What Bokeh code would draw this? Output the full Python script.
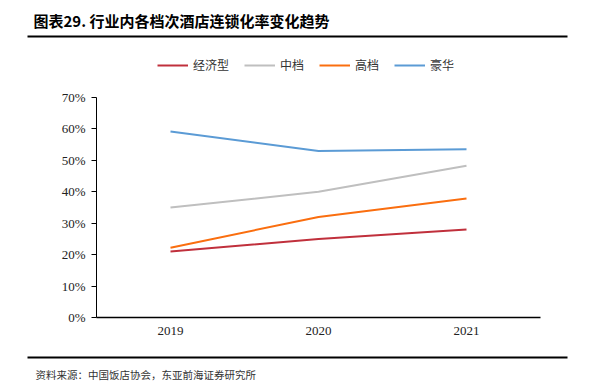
from bokeh.plotting import figure
from bokeh.models import (FactorRange, Range1d, Legend, LegendItem, FixedTicker,
                          CustomJSTickFormatter)
from bokeh.layouts import column, row
from bokeh.core.properties import value
from bokeh.embed import file_html
from bokeh.resources import INLINE

years = ["2019", "2020", "2021"]
economy = [21.0, 25.0, 28.0]
midscale = [35.0, 40.0, 48.3]
upscale = [22.2, 32.0, 37.9]
luxury = [59.2, 53.0, 53.5]
series_names = ["经济型", "中档", "高档", "豪华"]
y_ticks = [0, 10, 20, 30, 40, 50, 60, 70]

title_text = "图表29. 行业内各档次酒店连锁化率变化趋势"
source_text = "资料来源：中国饭店协会，东亚前海证券研究所"

colors = ["#C0303C", "#BFBFBF", "#FA6E0F", "#5B9BD5"]

W = 592
HEAD_H = 45
FOOT_H = 40
MAIN_H = 391 - HEAD_H - FOOT_H


def blank(h):
    f = figure(width=W, height=h, x_range=Range1d(0, W), y_range=Range1d(h, 0),
               output_backend="svg", toolbar_location=None,
               min_border=0, min_border_left=0, min_border_right=0,
               min_border_top=0, min_border_bottom=0)
    f.axis.visible = False
    f.grid.visible = False
    f.outline_line_color = None
    f.background_fill_color = "white"
    f.border_fill_color = "white"
    return f


# header
head = blank(HEAD_H)
head.text(x=[33], y=[20], text=[title_text], text_font=value("Noto Sans CJK SC"),
          text_font_style="bold", text_font_size="15px", text_color="black",
          text_baseline="middle", text_align="left")
head.segment(x0=[27], y0=[36], x1=[567], y1=[36], line_color="black", line_width=2)

# main chart
p = figure(width=W, height=MAIN_H, x_range=FactorRange(*years, range_padding=0),
           y_range=Range1d(0, 70 + 47 * 70 / 220), output_backend="svg", toolbar_location=None,
           min_border_left=96, min_border_right=52, min_border_top=5, min_border_bottom=MAIN_H - 272)
p.outline_line_color = None
p.xgrid.grid_line_color = None
p.ygrid.grid_line_color = None
p.background_fill_color = "white"
p.border_fill_color = "white"

renderers = []
for vals, c in zip([economy, midscale, upscale, luxury], colors):
    r = p.line(years, vals, line_color=c, line_width=2)
    renderers.append(r)

p.yaxis.ticker = FixedTicker(ticks=y_ticks)
p.yaxis.bounds = (0, 70)
p.yaxis.formatter = CustomJSTickFormatter(code="return tick + '%';")
p.yaxis.major_label_text_font = "Liberation Serif"
p.yaxis.major_label_text_font_size = "13px"
p.yaxis.major_label_text_color = "#222222"
p.yaxis.axis_line_color = "black"
p.yaxis.major_tick_line_color = "black"
p.yaxis.major_tick_out = 5
p.yaxis.major_tick_in = 0
p.yaxis.minor_tick_line_color = None
p.yaxis.major_label_standoff = 6

p.xaxis.major_label_text_font = "Liberation Serif"
p.xaxis.major_label_text_font_size = "13px"
p.xaxis.major_label_text_color = "#222222"
p.xaxis.axis_line_color = "black"
p.xaxis.axis_line_width = 1.5
p.xaxis.major_tick_line_color = None
p.xaxis.major_tick_out = 0
p.xaxis.major_tick_in = 0
p.xaxis.minor_tick_line_color = None
p.xaxis.major_label_standoff = 9

legend = Legend(items=[LegendItem(label=n, renderers=[r]) for n, r in zip(series_names, renderers)],
                orientation="horizontal", location=(61, 244),
                glyph_width=31, glyph_height=14, label_height=14, label_standoff=5, spacing=15,
                padding=0, margin=0, border_line_color=None, background_fill_alpha=0,
                label_text_font="Noto Sans CJK SC", label_text_font_size="12px",
                label_text_color="#333333")
p.add_layout(legend, "center")

# footer
foot = blank(FOOT_H)
foot.segment(x0=[27], y0=[6], x1=[567], y1=[6], line_color="black", line_width=2)
foot.text(x=[35], y=[23], text=[source_text], text_font=value("Noto Sans CJK SC"),
          text_font_size="10.5px", text_color="#333333",
          text_baseline="middle", text_align="left")

layout = column(row(head), row(p), row(foot), spacing=0)
open("out.html", "w").write(file_html(layout, INLINE))
